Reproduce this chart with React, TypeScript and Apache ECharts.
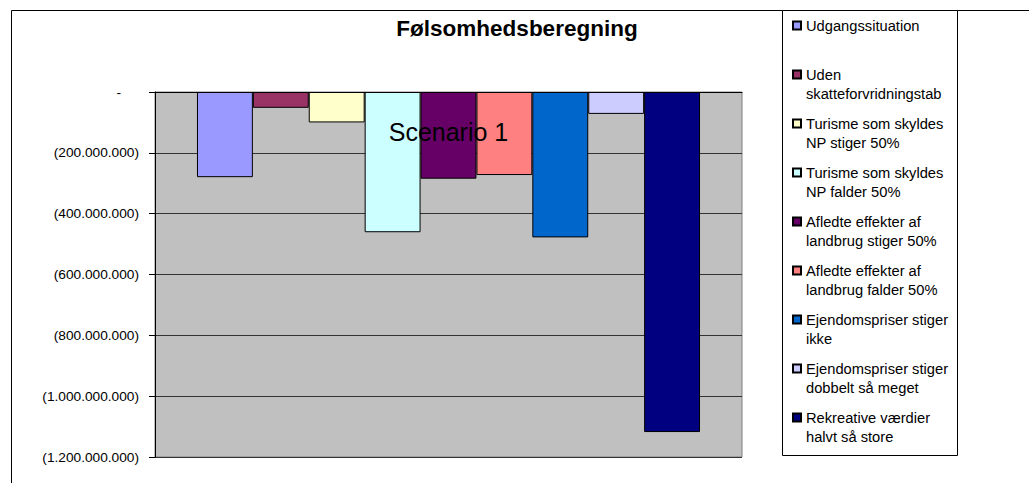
import React, { useEffect, useRef } from "react";
import * as echarts from "echarts";

const titleText = "Følsomhedsberegning";
const categories = ["Scenario 1"];
const seriesNames = [
  "Udgangssituation",
  "Uden skatteforvridningstab",
  "Turisme som skyldes NP stiger 50%",
  "Turisme som skyldes NP falder 50%",
  "Afledte effekter af landbrug stiger 50%",
  "Afledte effekter af landbrug falder 50%",
  "Ejendomspriser stiger ikke",
  "Ejendomspriser stiger dobbelt så meget",
  "Rekreative værdier halvt så store",
];
const legendLabels = [
  "Udgangssituation\n ",
  "Uden\nskatteforvridningstab",
  "Turisme som skyldes\nNP stiger 50%",
  "Turisme som skyldes\nNP falder 50%",
  "Afledte effekter af\nlandbrug stiger 50%",
  "Afledte effekter af\nlandbrug falder 50%",
  "Ejendomspriser stiger\nikke",
  "Ejendomspriser stiger\ndobbelt så meget",
  "Rekreative værdier\nhalvt så store",
];
const seriesValues = [
  -280000000, -52000000, -100000000, -461000000, -285000000, -273000000,
  -478000000, -72000000, -1118000000,
];
const seriesColors = [
  "#9999FF", "#993366", "#FFFFCC", "#CCFFFF", "#660066",
  "#FF8080", "#0066CC", "#CCCCFF", "#000080",
];
const yMin = -1200000000;
const yMax = 0;
const yInterval = 200000000;

const FONT = "'Liberation Sans', Arial, sans-serif";

function fmtY(v: number): string {
  if (v === 0) return "{d|-}";
  const s = Math.abs(v).toString().replace(/\B(?=(\d{3})+(?!\d))/g, ".");
  return v < 0 ? "(" + s + ")" : s;
}

export default function App() {
  const ref = useRef<HTMLDivElement>(null);
  useEffect(() => {
    document.body.style.margin = "0";
    if (!ref.current) return;
    const chart = echarts.init(ref.current, undefined, { renderer: "svg" });
    const legendMap: Record<string, string> = {};
    seriesNames.forEach((n, i) => (legendMap[n] = legendLabels[i]));
    chart.setOption({
      animation: false,
      backgroundColor: "#fff",
      title: {
        text: titleText,
        left: 517,
        top: 17,
        padding: 0,
        textAlign: "center",
        textStyle: { fontFamily: FONT, fontSize: 22.5, fontWeight: "bold", color: "#000" },
      },
      graphic: [
        {
          type: "rect",
          z: -10,
          shape: { x: 11.5, y: 10.5, width: 1100, height: 600 },
          style: { fill: "none", stroke: "#000", lineWidth: 1 },
        },
        {
          type: "rect",
          z: -5,
          shape: { x: 782.5, y: 10.5, width: 175, height: 445 },
          style: { fill: "#fff", stroke: "#000", lineWidth: 1 },
        },
      ],
      legend: {
        orient: "vertical",
        left: 792,
        top: 16,
        padding: 0,
        itemGap: 11,
        itemWidth: 8,
        itemHeight: 27,
        selectedMode: false,
        icon: "path://M0,0H8V8H0Z M0,27",
        data: seriesNames,
        formatter: (name: string) => legendMap[name] || name,
        textStyle: { fontFamily: FONT, fontSize: 14.7, lineHeight: 19, color: "#000" },
      },
      grid: {
        left: 155,
        top: 92,
        width: 587,
        height: 365,
        show: true,
        backgroundColor: "#C0C0C0",
        borderColor: "#808080",
        borderWidth: 1,
      },
      xAxis: {
        type: "category",
        data: categories,
        position: "top",
        z: 10,
        axisLine: { show: true, onZero: false, lineStyle: { color: "#000", width: 1 } },
        axisTick: { show: false },
        splitLine: { show: false },
        axisLabel: {
          inside: true,
          margin: 27,
          fontFamily: FONT,
          fontSize: 25,
          color: "#000",
        },
      },
      yAxis: {
        type: "value",
        min: yMin,
        max: yMax,
        interval: yInterval,
        axisLine: { show: true, lineStyle: { color: "#000", width: 1 } },
        axisTick: { show: true, inside: false, length: 6, lineStyle: { color: "#000" } },
        splitLine: { show: true, lineStyle: { color: "#333", width: 1 } },
        axisLabel: {
          margin: 16,
          fontFamily: FONT,
          fontSize: 13.7,
          color: "#000",
          formatter: fmtY,
          rich: {
            d: { fontFamily: FONT, fontSize: 13.7, color: "#000", padding: [0, 18, 0, 0] },
          },
        },
      },
      series: seriesNames.map((name, i) => ({
        type: "bar",
        name,
        data: [seriesValues[i]],
        barGap: "0%",
        barCategoryGap: "14.3%",
        itemStyle: { color: seriesColors[i], borderColor: "#000", borderWidth: 1 },
      })),
    });
    return () => chart.dispose();
  }, []);
  return <div ref={ref} style={{ width: 1029, height: 483 }} />;
}
